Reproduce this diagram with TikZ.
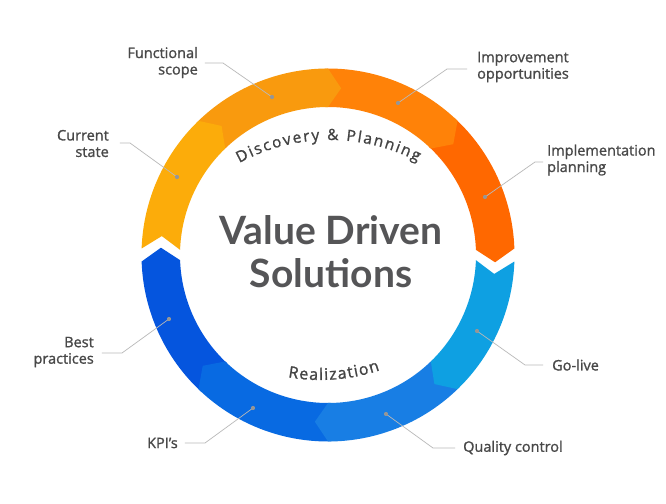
\documentclass[tikz,border=0pt]{standalone}
\usepackage{fontspec}
\setmainfont{Lato}
\newfontfamily\medfont{Open Sans}[FakeBold=1.2]
\usetikzlibrary{decorations.text}
\definecolor{cscol}{RGB}{252,172,10}
\definecolor{fscol}{RGB}{249,154,14}
\definecolor{iocol}{RGB}{255,130,8}
\definecolor{ipcol}{RGB}{255,104,0}
\definecolor{glcol}{RGB}{14,160,226}
\definecolor{qccol}{RGB}{24,126,228}
\definecolor{kpcol}{RGB}{8,106,226}
\definecolor{bpcol}{RGB}{5,85,222}
\definecolor{labelgray}{RGB}{72,72,72}
\definecolor{centergray}{RGB}{85,85,87}
\definecolor{arcgray}{RGB}{68,68,68}
\definecolor{dotgray}{RGB}{150,150,150}
\definecolor{linegray}{RGB}{185,185,185}
\def\rOut{186.5}
\def\rIn{148}
\def\rMid{167.25}
\def\tipD{4.5}
% #1 start angle, #2 end angle (clockwise), #3 colour, #4 notch depth at start
\newcommand\ringseg[4]{%
  \fill[#3] (#1:\rOut) arc[start angle=#1, end angle=#2, radius=\rOut]
    -- ({#2-\tipD}:\rMid) -- (#2:\rIn)
    arc[start angle=#2, end angle=#1, radius=\rIn]
    -- ({#1-#4}:\rMid) -- cycle;}
\begin{document}
\begin{tikzpicture}[x=1pt,y=1pt,
  labelsty/.style={font=\medfont\fontsize{14.5}{16.5}\selectfont, text=labelgray, inner sep=0pt},
  centertext/.style={font=\bfseries\fontsize{39}{39}\selectfont, text=centergray, inner sep=0pt},
  dotsty/.style={circle, fill=dotgray, inner sep=0pt, minimum size=4.2pt},
  leader/.style={draw=linegray, line width=0.7pt}]
\useasboundingbox (-328,-248) rectangle (338,255);
\fill[white] (-328,-248) rectangle (338,255);
% top half (clockwise)
\ringseg{47}{2}{ipcol}{0}
\ringseg{91}{46}{iocol}{0}
\ringseg{135}{90}{fscol}{0}
\ringseg{178}{134}{cscol}{\tipD}
% bottom half (clockwise)
\ringseg{-133}{-178}{bpcol}{0}
\ringseg{-89}{-134}{kpcol}{0}
\ringseg{-45}{-90}{qccol}{0}
\ringseg{-2}{-46}{glcol}{\tipD}
% centre text
\node[centertext, anchor=base] (vd) at (3,10) {Value Driven};
\node[centertext, anchor=base] (so) at (3,-33) {Solutions};
% arc texts
\path[decorate, decoration={text along path,
  text={|\medfont\fontsize{15.5}{16}\selectfont|Discovery {\&} Planning},
  text align=fit to path, text color=arcgray}]
  (2,-75) ++(118.5:190) arc[start angle=118.5, end angle=62.5, radius=190];
\path[decorate, decoration={text along path,
  text={|\medfont\fontsize{16}{16}\selectfont|Realization},
  text align=fit to path, text color=arcgray}]
  (-8,65) ++(-99.7:190) arc[start angle=-99.7, end angle=-71.6, radius=190];
% labels
\node[labelsty, anchor=east, align=right] (lcs) at (-219,111.5) {Current\\state};
\node[labelsty, anchor=east, align=right] (lfs) at (-130,192.5) {Functional\\scope};
\node[labelsty, anchor=west, align=left] (lio) at (149,188) {Improvement\\opportunities};
\node[labelsty, anchor=west, align=left] (lip) at (219,95) {Implementation\\planning};
\node[labelsty, anchor=east, align=right] (lbp) at (-234,-97) {Best\\practices};
\node[labelsty, anchor=east] (lkp) at (-150,-188) {KPI’s};
\node[labelsty, anchor=west] (lgl) at (224,-110) {Go-live};
\node[labelsty, anchor=west] (lqc) at (135,-193) {Quality control};
% dot positions, knees and line ends
\coordinate (pcs) at (-151,78);  \coordinate (kcs) at (-198,112); \coordinate (ecs) at (-208,112);
\coordinate (pfs) at (-56,158);  \coordinate (kfs) at (-105,192); \coordinate (efs) at (-123,192);
\coordinate (pio) at (70,152);   \coordinate (kio) at (119,186);  \coordinate (eio) at (139,186);
\coordinate (pip) at (157,58);   \coordinate (kip) at (207,93);   \coordinate (eip) at (215,93);
\coordinate (pbp) at (-159,-64); \coordinate (kbp) at (-206,-98); \coordinate (ebp) at (-226,-98);
\coordinate (pkp) at (-75,-153); \coordinate (kkp) at (-123,-188);\coordinate (ekp) at (-143,-188);
\coordinate (pgl) at (149,-76);  \coordinate (kgl) at (197,-110); \coordinate (egl) at (215,-110);
\coordinate (pqc) at (58,-159);  \coordinate (kqc) at (105,-193); \coordinate (eqc) at (127,-193);
\foreach \n in {cs,fs,io,ip,bp,kp,gl,qc}{
  \draw[leader] (p\n) -- (k\n) -- (e\n);
  \node[dotsty] (dot\n) at (p\n) {};
}
\end{tikzpicture}
\end{document}
